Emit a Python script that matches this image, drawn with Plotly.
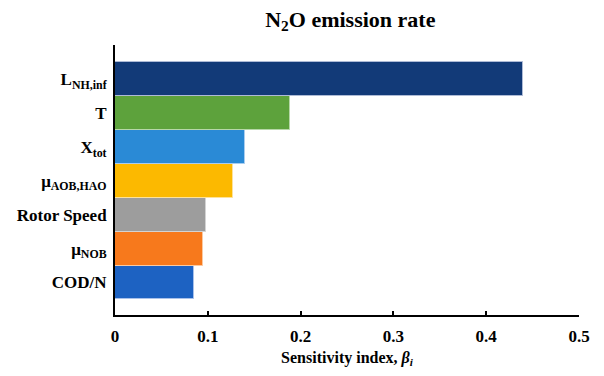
import plotly.graph_objects as go

categories = ["L<sub>NH,inf</sub>", "T", "X<sub>tot</sub>", "μ<sub>AOB,HAO</sub>",
              "Rotor Speed", "μ<sub>NOB</sub>", "COD/N"]
values = [0.440, 0.189, 0.140, 0.1275, 0.098, 0.095, 0.085]
colors = ["#123a78", "#5da23c", "#2a8ad6", "#fcb900", "#9d9d9d", "#f7791c", "#1d62c2"]
edge_colors = ["#aebbd6", "#b7d7a8", "#a9cdef", "#fde29a", "#d3d3d3", "#fbc9a0", "#a9c1ea"]
x_ticks = [0, 0.1, 0.2, 0.3, 0.4, 0.5]
x_tick_text = ["0", "0.1", "0.2", "0.3", "0.4", "0.5"]

# reverse so first category is at top
cats_r = categories[::-1]
vals_r = values[::-1]
cols_r = colors[::-1]
edges_r = edge_colors[::-1]
ypos = list(range(len(cats_r)))

fig = go.Figure()
fig.add_trace(go.Bar(
    x=vals_r, y=ypos, orientation="h",
    marker=dict(color=cols_r, line=dict(color=edges_r, width=1)),
    width=1.0,
))

font_family = "Liberation Serif, Times New Roman, serif"
fig.update_layout(
    width=604, height=376,
    margin=dict(l=115, r=25, t=45, b=61, autoexpand=False),
    paper_bgcolor="white", plot_bgcolor="white",
    showlegend=False,
    bargap=0,
    title=dict(text="<b>N<sub>2</sub>O emission rate</b>", x=0.58, xanchor="center",
               y=0.95, yanchor="middle",
               font=dict(family=font_family, size=22, color="black")),
    font=dict(family=font_family, color="black"),
)
fig.update_xaxes(
    automargin=False,
    range=[0, 0.5], tickvals=x_ticks, ticktext=["<b>%s</b>" % t for t in x_tick_text],
    showline=True, linecolor="black", linewidth=2, mirror=False,
    ticks="inside", ticklen=4, tickwidth=1.5, tickcolor="black",
    showgrid=False, zeroline=False,
    tickfont=dict(family=font_family, size=17, color="black"),
    ticklabelstandoff=5,
    title=dict(text="<b>Sensitivity index, <i>β<sub>i</sub></i></b>",
               font=dict(family=font_family, size=16, color="black"), standoff=6),
)
fig.update_yaxes(
    automargin=False,
    range=[-0.96, 7.01], tickvals=ypos, ticktext=["<b>%s</b>" % c for c in cats_r],
    showline=True, linecolor="black", linewidth=2,
    ticks="", showgrid=False, zeroline=False,
    tickfont=dict(family=font_family, size=17, color="black"),
    ticklabelstandoff=3,
)

fig.write_html("out.html")
